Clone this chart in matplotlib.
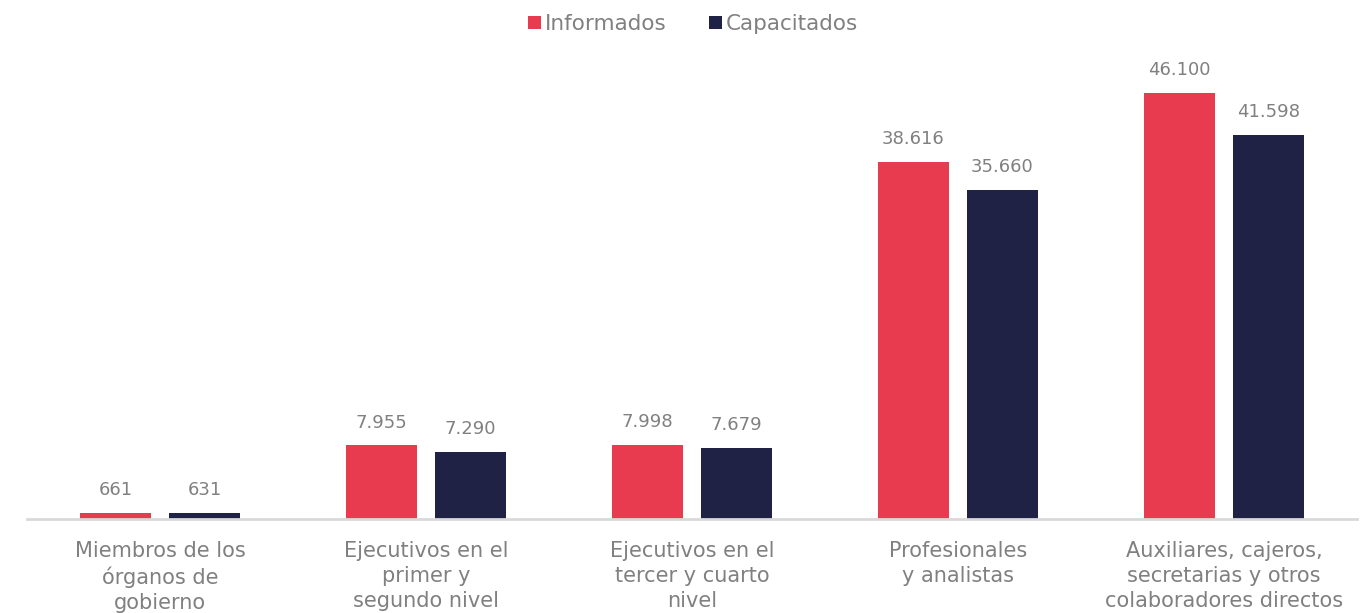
import matplotlib.pyplot as plt
import numpy as np

categorias = ['Miembros de los\nórganos de\ngobierno',
              'Ejecutivos en el\nprimer y\nsegundo nivel',
              'Ejecutivos en el\ntercer y cuarto\nnivel',
              'Profesionales\ny analistas',
              'Auxiliares, cajeros,\nsecretarias y otros\ncolaboradores directos']
informados = [661, 7955, 7998, 38616, 46100]
capacitados = [631, 7290, 7679, 35660, 41598]
series = ['Informados', 'Capacitados']

rojo = '#e83b50'
azul = '#1f2244'
gris = '#808080'

plt.rcParams['font.family'] = ['DejaVu Sans']

fig = plt.figure(figsize=(13.72, 6.13), dpi=100)
# axes box placed in pixels: x 27..1357, baseline at y=519
ax = fig.add_axes([27 / 1372, 94 / 613, 1330 / 1372, 462 / 613])

x = np.arange(len(categorias))
ancho = 0.267
sep = 0.335
b1 = ax.bar(x - sep / 2, informados, ancho, color=rojo, label=series[0])
b2 = ax.bar(x + sep / 2, capacitados, ancho, color=azul, label=series[1])

def miles(v):
    return f'{v:,}'.replace(',', '.')

for barras, vals in ((b1, informados), (b2, capacitados)):
    for r, v in zip(barras, vals):
        ax.annotate(miles(v), (r.get_x() + r.get_width() / 2, v),
                    xytext=(0, 10), textcoords='offset points',
                    ha='center', va='bottom', fontsize=13, color=gris)

ax.set_xlim(-0.5, len(categorias) - 0.5)
ax.set_ylim(0, 50000)
ax.set_yticks([])
ax.set_xticks(x)
ax.set_xticklabels(categorias, fontsize=15, color=gris, linespacing=1.32)
ax.tick_params(axis='x', length=0, pad=16)
for s in ['top', 'right', 'left']:
    ax.spines[s].set_visible(False)
ax.spines['bottom'].set_color('#d9d9d9')
ax.spines['bottom'].set_linewidth(2)

leg = fig.legend(handles=[b1, b2], loc='center', bbox_to_anchor=(693 / 1372, 1 - 24 / 613),
                 ncol=2, frameon=False, fontsize=15.5, handlelength=0.6, handleheight=0.6,
                 handletextpad=0.15, columnspacing=2.0)
for t in leg.get_texts():
    t.set_color(gris)

fig.savefig('out.png', dpi=100)
